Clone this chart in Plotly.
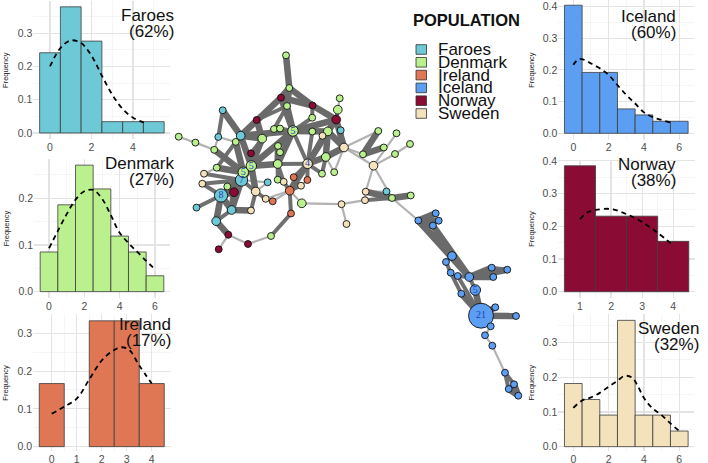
import plotly.graph_objects as go

W, H = 708, 463

# ---------------- histogram data (relative frequencies) ----------------
faroes_vals = [0, 1, 2, 3, 4, 5]
faroes_freq = [0.241, 0.379, 0.276, 0.034, 0.034, 0.034]
faroes_dens_x = [0, 0.5, 1, 1.5, 2, 2.5, 3, 3.5, 4, 4.5, 4.7]
faroes_dens_y = [0.20, 0.255, 0.278, 0.27, 0.232, 0.172, 0.115, 0.072, 0.046, 0.032, 0.03]

denmark_vals = [0, 1, 2, 3, 4, 5, 6]
denmark_freq = [0.085, 0.186, 0.271, 0.220, 0.119, 0.085, 0.034]
denmark_dens_x = [0, 0.5, 1, 1.5, 2, 2.5, 3, 3.5, 4, 4.5, 5, 5.5, 6]
denmark_dens_y = [0.093, 0.13, 0.166, 0.197, 0.215, 0.218, 0.199, 0.164, 0.126, 0.104, 0.085, 0.066, 0.048]

ireland_vals = [0, 1, 2, 3, 4]
ireland_freq = [0.167, 0.0, 0.333, 0.333, 0.167]
ireland_dens_x = [0, 0.5, 1, 1.5, 2, 2.5, 2.8, 3.1, 3.5, 4]
ireland_dens_y = [0.087, 0.106, 0.127, 0.178, 0.228, 0.256, 0.263, 0.256, 0.215, 0.167]

iceland_vals = [0, 1, 2, 3, 4, 5, 6]
iceland_freq = [0.404, 0.192, 0.192, 0.077, 0.058, 0.038, 0.038]
iceland_dens_x = [0, 0.3, 0.6, 1, 1.5, 2, 2.5, 3, 3.5, 4, 4.5, 5, 5.5]
iceland_dens_y = [0.216, 0.234, 0.232, 0.22, 0.205, 0.184, 0.152, 0.121, 0.094, 0.066, 0.051, 0.042, 0.034]

norway_vals = [1, 2, 3, 4]
norway_freq = [0.385, 0.231, 0.231, 0.154]
norway_dens_x = [1, 1.25, 1.5, 2, 2.5, 3, 3.5, 4]
norway_dens_y = [0.222, 0.243, 0.25, 0.253, 0.237, 0.213, 0.18, 0.142]

sweden_vals = [0, 1, 2, 3, 4, 5, 6]
sweden_freq = [0.182, 0.136, 0.091, 0.364, 0.091, 0.091, 0.045]
sweden_dens_x = [0, 0.5, 1, 1.5, 2, 2.5, 2.9, 3.3, 3.6, 4, 4.5, 5, 5.5, 6]
sweden_dens_y = [0.112, 0.133, 0.142, 0.155, 0.173, 0.19, 0.204, 0.2, 0.18, 0.14, 0.11, 0.091, 0.067, 0.045]

populations = ["Faroes", "Denmark", "Ireland", "Iceland", "Norway", "Sweden"]
pop_codes = ["F", "D", "I", "C", "N", "S"]
pop_share = ["(62%)", "(27%)", "(17%)", "(60%)", "(38%)", "(32%)"]
pop_colors = ["#6DC9D5", "#BAF08D", "#DF7755", "#5C9EF2", "#8A0B33", "#F3E2BB"]

# ---------------- network data (layout coordinates, population, count) ----------------
node_x = [286.0, 289.3, 281.0, 312.5, 339.7, 337.8, 336.2, 340.7, 287.0, 222.7,
          256.7, 312.2, 312.3, 327.8, 322.5, 293.0, 274.0, 280.0, 262.2, 240.7,
          235.7, 218.3, 178.7, 195.4, 214.2, 278.0, 280.0, 251.0, 344.0, 325.8,
          277.7, 307.6, 241.5, 251.3, 243.3, 216.7, 204.0, 202.3, 227.3, 322.0,
          334.2, 293.7, 307.4, 277.7, 283.7, 301.0, 267.7, 289.7, 255.7, 234.0,
          221.0, 265.7, 272.7, 301.8, 196.5, 231.6, 251.0, 291.0, 216.2, 228.3,
          271.0, 248.0, 218.7, 378.3, 396.5, 410.0, 383.8, 395.0, 363.0, 373.5,
          341.5, 346.5, 365.7, 386.5, 392.0, 410.7, 365.0, 418.3, 435.7, 438.7,
          432.9, 452.0, 446.0, 450.7, 457.7, 469.3, 491.7, 507.3, 493.3, 475.3,
          461.3, 481.0, 495.3, 516.0, 490.7, 485.0, 492.3, 505.0, 514.0, 508.7,
          518.3]
node_y = [55.3, 88.0, 97.7, 105.5, 98.3, 109.7, 119.6, 130.3, 106.0, 110.3,
          120.0, 117.7, 131.5, 131.4, 135.8, 131.0, 129.0, 128.5, 138.6, 135.7,
          141.9, 137.0, 136.7, 142.6, 149.8, 146.0, 152.3, 153.3, 147.5, 157.0,
          164.0, 163.8, 180.0, 166.0, 172.3, 167.7, 173.7, 183.7, 186.5, 173.7,
          172.2, 177.2, 180.0, 179.7, 181.8, 185.7, 182.3, 190.7, 191.5, 192.2,
          195.5, 198.8, 201.3, 203.3, 207.6, 210.0, 210.5, 213.5, 221.2, 234.8,
          236.0, 244.0, 249.3, 131.0, 133.3, 144.0, 147.5, 154.0, 154.3, 165.7,
          204.2, 224.0, 191.7, 191.5, 198.0, 195.5, 200.2, 220.5, 213.3, 220.7,
          225.6, 256.0, 262.0, 272.7, 276.0, 277.0, 267.7, 269.7, 277.0, 290.0,
          293.7, 315.7, 307.3, 316.0, 326.3, 335.3, 345.7, 372.7, 384.3, 389.0,
          395.7]
node_pop = ["D", "D", "N", "N", "D", "D", "N", "F", "D", "F",
            "N", "D", "D", "D", "S", "D", "D", "D", "D", "F",
            "D", "F", "D", "D", "D", "D", "D", "N", "S", "D",
            "D", "S", "F", "D", "D", "D", "S", "S", "D", "D",
            "D", "I", "I", "D", "S", "S", "F", "I", "S", "N",
            "F", "S", "I", "D", "F", "F", "S", "I", "F", "N",
            "D", "N", "N", "D", "D", "D", "D", "D", "D", "S",
            "S", "S", "S", "F", "D", "D", "S", "C", "C", "C",
            "C", "C", "C", "C", "C", "C", "C", "C", "C", "C",
            "C", "C", "C", "C", "C", "C", "C", "C", "C", "C",
            "C"]
node_count = [1, 1, 1, 1, 1, 3, 3, 1, 1, 1,
              1, 1, 1, 3, 1, 5, 1, 1, 3, 3,
              1, 1, 1, 1, 1, 1, 1, 1, 3, 3,
              3, 4, 7, 5, 5, 1, 1, 1, 1, 1,
              1, 1, 1, 1, 1, 1, 1, 3, 3, 3,
              8, 1, 1, 3, 1, 3, 1, 1, 3, 1,
              1, 1, 1, 1, 1, 1, 1, 1, 1, 3,
              1, 1, 1, 1, 1, 1, 1, 1, 1, 1,
              1, 3, 1, 1, 1, 3, 1, 1, 1, 5,
              1, 21, 1, 1, 1, 1, 1, 1, 1, 1,
              1]

# edges: (source, target) per link strength
edges_strong = [(0, 1), (1, 2), (1, 3), (1, 8), (8, 15), (2, 3), (2, 19), (3, 6), (6, 13), (6, 28),
                (6, 15), (9, 19), (10, 18), (19, 15), (19, 33), (19, 18), (15, 13), (15, 25), (15, 33),
                (15, 30), (18, 33), (13, 28), (13, 31), (29, 31), (29, 28), (29, 13), (31, 47), (30, 25),
                (30, 33), (33, 34), (33, 32), (33, 49), (33, 48), (34, 32), (34, 35), (34, 24), (34, 20),
                (32, 50), (32, 49), (32, 55), (50, 49), (50, 55), (50, 58), (55, 49), (55, 56), (68, 63),
                (68, 66), (72, 74), (74, 75), (77, 78), (77, 79), (77, 80), (77, 81), (77, 85), (80, 85),
                (85, 86), (85, 87), (85, 88), (89, 91), (90, 91), (91, 92), (91, 93), (98, 100), (99, 100),
                (58, 59), (2, 15)]
edges_medium = [(3, 11), (5, 6), (6, 7), (10, 19), (10, 8), (19, 20), (15, 16), (15, 17), (15, 11),
                (15, 12), (15, 31), (18, 16), (13, 14), (31, 41), (31, 42), (31, 39), (31, 30), (31, 14),
                (30, 44), (30, 43), (26, 25), (27, 33), (27, 18), (32, 36), (32, 37), (32, 38), (35, 20),
                (37, 50), (50, 54), (55, 58), (48, 56), (48, 51), (48, 32), (47, 44), (47, 45), (47, 57),
                (57, 60), (76, 74), (81, 82), (82, 83), (84, 85), (85, 89), (86, 87), (91, 94), (97, 98),
                (97, 99), (98, 99), (83, 90), (84, 91), (29, 39), (12, 31), (2, 10), (8, 16), (7, 28),
                (81, 85), (9, 21)]
edges_weak = [(4, 5), (21, 20), (22, 23), (23, 24), (21, 24), (35, 36), (32, 46), (48, 46), (47, 51),
              (47, 52), (47, 53), (47, 41), (53, 70), (60, 61), (61, 59), (59, 62), (28, 40), (28, 63),
              (28, 68), (28, 69), (29, 40), (69, 72), (69, 64), (65, 67), (67, 69), (69, 74), (72, 73),
              (73, 74), (76, 70), (70, 71), (74, 77), (94, 95), (95, 96), (96, 97), (42, 45), (72, 76)]

# ---------------- figure ----------------
fig = go.Figure()

GRID_MAJOR = "#E4E4E4"
GRID_MINOR = "#F0F0F0"
TICK_FONT = dict(family="Liberation Sans, Arial, sans-serif", size=10.5, color="#4D4D4D")

# panel placement in pixels: (x0, x1), (y_bottom, y_top), x range, y range, ticks
panels = [
    dict(vals=faroes_vals, freq=faroes_freq, dx=faroes_dens_x, dy=faroes_dens_y, px=(33.4, 170.4), py=(139.3, 0.5),
         xr=(-0.8, 5.8), yr=(-0.019, 0.398), xt=[0, 2, 4], xm=[1, 3, 5], yt=[0, 0.1, 0.2, 0.3],
         tx=176, ty=15, fx=6),
    dict(vals=denmark_vals, freq=denmark_freq, dx=denmark_dens_x, dy=denmark_dens_y, px=(34, 170), py=(298, 158.6),
         xr=(-0.85, 6.85), yr=(-0.0136, 0.285), xt=[0, 2, 4, 6], xm=[1, 3, 5], yt=[0, 0.1, 0.2],
         tx=176, ty=163, fx=6),
    dict(vals=ireland_vals, freq=ireland_freq, dx=ireland_dens_x, dy=ireland_dens_y, px=(33, 170.5), py=(451, 314.4),
         xr=(-0.75, 4.75), yr=(-0.0115, 0.35), xt=[0, 1, 2, 3, 4], xm=[0.5, 1.5, 2.5, 3.5], yt=[0, 0.1, 0.2, 0.3],
         tx=173, ty=324, fx=6),
    dict(vals=iceland_vals, freq=iceland_freq, dx=iceland_dens_x, dy=iceland_dens_y, px=(558.3, 694.3), py=(139.7, 0),
         xr=(-0.85, 6.85), yr=(-0.0202, 0.4205), xt=[0, 2, 4, 6], xm=[1, 3, 5], yt=[0, 0.1, 0.2, 0.3, 0.4],
         tx=678, ty=16, fx=532),
    dict(vals=norway_vals, freq=norway_freq, dx=norway_dens_x, dy=norway_dens_y, px=(558.2, 695), py=(298, 159.6),
         xr=(0.3, 4.7), yr=(-0.0192, 0.404), xt=[1, 2, 3, 4], xm=[1.5, 2.5, 3.5], yt=[0, 0.1, 0.2, 0.3, 0.4],
         tx=678, ty=164, fx=532),
    dict(vals=sweden_vals, freq=sweden_freq, dx=sweden_dens_x, dy=sweden_dens_y, px=(558.3, 694.3), py=(451, 314.1),
         xr=(-0.85, 6.85), yr=(-0.0125, 0.382), xt=[0, 2, 4, 6], xm=[1, 3, 5], yt=[0, 0.1, 0.2, 0.3],
         tx=701, ty=328, fx=532),
]

annotations = []
shapes = []
TEXT_FONT = "Liberation Sans, Arial, sans-serif"

for i, p in enumerate(panels):
    k = i + 1
    sx = "" if k == 1 else str(k)
    xa, ya = "x" + sx, "y" + sx
    bx = [v for v, f in zip(p["vals"], p["freq"]) if f > 0]
    by = [f for f in p["freq"] if f > 0]
    fig.add_trace(go.Bar(x=bx, y=by, width=1.0, xaxis=xa, yaxis=ya,
                         marker=dict(color=pop_colors[i], line=dict(color="#3C3C3C", width=0.8)),
                         hoverinfo="skip"))
    fig.add_trace(go.Scatter(x=p["dx"], y=p["dy"], mode="lines", xaxis=xa, yaxis=ya,
                             line=dict(color="black", width=1.8, dash="5px,4px", shape="spline"),
                             hoverinfo="skip"))
    ymin = [round(v + 0.05, 2) for v in p["yt"]]
    fig.update_layout(**{
        "xaxis" + sx: dict(domain=[p["px"][0] / W, p["px"][1] / W], range=list(p["xr"]), anchor=ya,
                           tickvals=p["xt"], ticktext=[str(v) for v in p["xt"]], showgrid=True,
                           gridcolor=GRID_MAJOR, gridwidth=1.1, zeroline=False, showline=False,
                           ticks="", tickfont=TICK_FONT, fixedrange=True, automargin=False,
                           minor=dict(tickvals=p["xm"], showgrid=True, gridcolor=GRID_MINOR, gridwidth=0.6)),
        "yaxis" + sx: dict(domain=[1 - p["py"][0] / H, 1 - p["py"][1] / H], range=list(p["yr"]), anchor=xa,
                           tickvals=p["yt"], ticktext=["%.1f" % v for v in p["yt"]], showgrid=True,
                           gridcolor=GRID_MAJOR, gridwidth=1.1, zeroline=False, showline=False,
                           ticks="", tickfont=TICK_FONT, fixedrange=True, automargin=False,
                           minor=dict(tickvals=ymin, showgrid=True, gridcolor=GRID_MINOR, gridwidth=0.6)),
    })
    annotations.append(dict(x=p["tx"], y=p["ty"], xref="x7", yref="y7", text=populations[i],
                            showarrow=False, xanchor="right", yanchor="middle",
                            font=dict(family=TEXT_FONT, size=17, color="#111111")))
    annotations.append(dict(x=p["tx"], y=p["ty"] + 16.5, xref="x7", yref="y7", text=pop_share[i],
                            showarrow=False, xanchor="right", yanchor="middle",
                            font=dict(family=TEXT_FONT, size=17, color="#111111")))
    annotations.append(dict(x=p["fx"], y=(p["py"][0] + p["py"][1]) / 2, xref="x7", yref="y7",
                            text="Frequency", textangle=-90, showarrow=False,
                            xanchor="center", yanchor="middle",
                            font=dict(family=TEXT_FONT, size=7.5, color="#222222")))

# ---------------- network ----------------
def edge_xy(edge_list):
    ex, ey = [], []
    for a, b in edge_list:
        ex += [node_x[a], node_x[b], None]
        ey += [node_y[a], node_y[b], None]
    return ex, ey

for edge_list, col, wid in [(edges_weak, "#B2B2B2", 2.2), (edges_medium, "#707070", 4.0),
                            (edges_strong, "#6A6A6A", 6.5)]:
    ex, ey = edge_xy(edge_list)
    fig.add_trace(go.Scatter(x=ex, y=ey, mode="lines", xaxis="x7", yaxis="y7",
                             line=dict(color=col, width=wid), hoverinfo="skip"))

code_color = dict(zip(pop_codes, pop_colors))
fig.add_trace(go.Scatter(
    x=node_x, y=node_y, mode="markers+text", xaxis="x7", yaxis="y7",
    marker=dict(size=[6.0 + 0.9 * c for c in node_count],
                color=[code_color[p] for p in node_pop],
                line=dict(color="#111111", width=0.9), opacity=1),
    text=[str(c) if c >= 4 else "" for c in node_count],
    textposition="middle center",
    textfont=dict(family="Liberation Serif, Times New Roman, serif", size=10, color="#2A3CB8"),
    hoverinfo="skip"))

fig.update_layout(
    xaxis7=dict(domain=[0, 1], range=[0, W], anchor="y7", visible=False, fixedrange=True, automargin=False),
    yaxis7=dict(domain=[0, 1], range=[H, 0], anchor="x7", visible=False, fixedrange=True, automargin=False),
)

# ---------------- legend ----------------
annotations.append(dict(x=411, y=20, xref="x7", yref="y7", text="<b>POPULATION</b>", showarrow=False,
                        xanchor="left", yanchor="middle",
                        font=dict(family=TEXT_FONT, size=16.5, color="#111111")))
for i, name in enumerate(populations):
    cy = 49.5 + 12.8 * i
    shapes.append(dict(type="rect", xref="x7", yref="y7", x0=416, x1=426.5, y0=cy - 4.8, y1=cy + 4.8,
                       fillcolor=pop_colors[i], line=dict(color="#333333", width=0.8)))
    annotations.append(dict(x=435.5, y=cy, xref="x7", yref="y7", text=name, showarrow=False,
                            xanchor="left", yanchor="middle",
                            font=dict(family=TEXT_FONT, size=17, color="#111111")))

fig.update_layout(
    width=W, height=H, margin=dict(l=0, r=0, t=0, b=0),
    paper_bgcolor="white", plot_bgcolor="rgba(0,0,0,0)",
    showlegend=False, barmode="overlay", hovermode=False,
    annotations=annotations, shapes=shapes,
)

fig.write_html("out.html", config={"displayModeBar": False, "staticPlot": True},
               post_script="document.body.style.margin='0';document.body.style.padding='0';")
